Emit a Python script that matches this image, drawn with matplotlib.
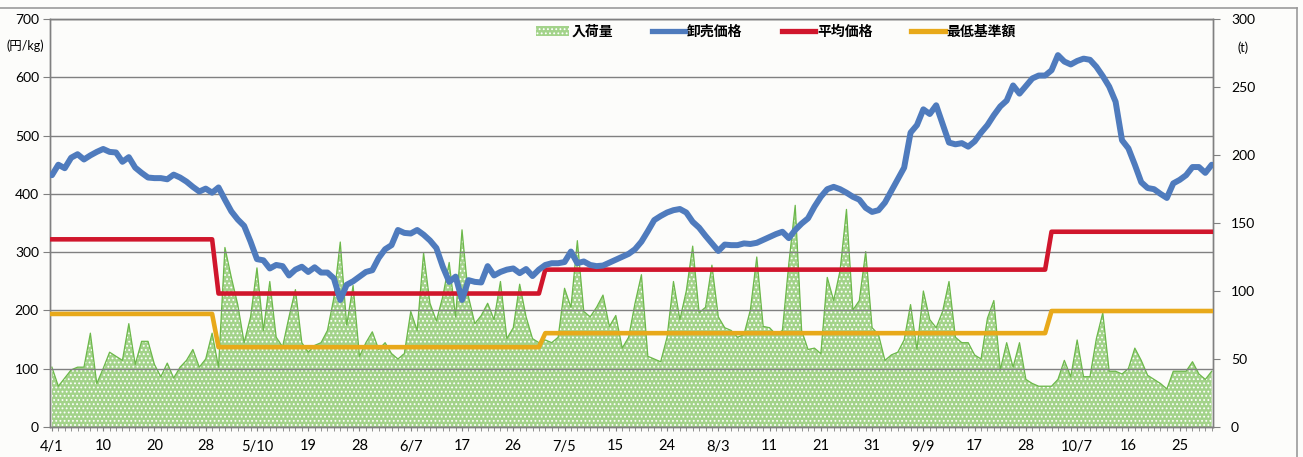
import matplotlib
matplotlib.use('Agg')
import matplotlib.pyplot as plt
import numpy as np
from matplotlib.lines import Line2D
from matplotlib.patches import Patch

plt.rcParams['font.family'] = ['Lato', 'Noto Sans CJK JP', 'DejaVu Sans']
plt.rcParams['hatch.color'] = 'white'
plt.rcParams['hatch.linewidth'] = 0.8

# ---- data ----
tick_labels = ['4/1', '10', '20', '28', '5/10', '19', '28', '6/7', '17', '26', '7/5', '15',
               '24', '8/3', '11', '21', '31', '9/9', '17', '28', '10/7', '16', '25']

# 卸売価格 (円/kg), one value per market day
wholesale_price = [
    432, 450, 444, 462, 468, 459, 466, 472, 477, 472,
    471, 455, 463, 445, 436, 428, 427, 427, 425, 433,
    428, 421, 412, 404, 409, 402, 411, 390, 370, 356,
    345, 318, 288, 286, 272, 278, 276, 260, 270, 275,
    266, 274, 265, 265, 255, 218, 244, 250, 258, 266,
    269, 290, 305, 312, 338, 333, 332, 338, 330, 320,
    307, 275, 249, 258, 218, 252, 249, 248, 276, 260,
    266, 270, 272, 264, 271, 259, 270, 278, 281, 281,
    283, 301, 281, 284, 278, 276, 277, 282, 287, 292,
    297, 305, 318, 336, 355, 362, 368, 372, 374, 368,
    352, 342, 328, 315, 302, 313, 312, 312, 315, 314,
    316, 321, 326, 331, 335, 324, 338, 349, 358, 378,
    395, 408, 412, 408, 402, 395, 390, 376, 369, 372,
    385, 405, 425, 445, 505, 518, 545, 537, 552, 520,
    488, 485, 487, 481, 490, 505, 518, 535, 550, 560,
    586, 572, 585, 598, 603, 603, 612, 638, 627, 622,
    628, 632, 630, 618, 602, 584, 558, 492, 478, 450,
    420, 410, 408, 400, 393, 418, 424, 432, 446, 446,
    436, 450]

# 入荷量 (t)
arrival_volume = [
    44, 30, 36, 42, 44, 44, 69, 32, 43, 55,
    52, 49, 76, 46, 63, 63, 46, 37, 47, 36,
    44, 49, 57, 44, 50, 69, 44, 132, 110, 90,
    62, 81, 117, 71, 107, 66, 59, 81, 101, 62,
    55, 60, 62, 71, 95, 136, 75, 104, 52, 62,
    70, 57, 62, 54, 50, 54, 85, 71, 128, 91,
    78, 96, 121, 81, 145, 96, 76, 82, 91, 79,
    107, 65, 73, 105, 81, 65, 62, 64, 62, 66,
    102, 88, 137, 85, 81, 88, 97, 74, 82, 58,
    66, 91, 112, 52, 50, 48, 66, 107, 79, 100,
    133, 84, 88, 119, 81, 73, 71, 66, 68, 86,
    125, 74, 73, 68, 71, 120, 163, 71, 57, 58,
    54, 110, 93, 115, 160, 86, 93, 129, 73, 68,
    49, 53, 55, 64, 90, 57, 100, 79, 73, 85,
    107, 66, 62, 62, 53, 50, 80, 93, 42, 62,
    44, 62, 35, 32, 30, 30, 30, 35, 49, 37,
    64, 37, 37, 65, 84, 41, 41, 39, 43, 58,
    49, 38, 35, 32, 28, 41, 41, 41, 48, 39,
    35, 41]

# 平均価格 / 最低基準額 : levels per period and period lengths (market days)
avg_price_levels = [322, 229, 270, 335]
min_standard_levels = [194, 137, 161, 199]
period_days = [26, 51, 79, 26]

avg_price = np.repeat(avg_price_levels, period_days)
min_standard = np.repeat(min_standard_levels, period_days)

x = np.arange(len(wholesale_price))

# ---- figure ----
W, H = 1303, 457
fig = plt.figure(figsize=(W / 100, H / 100), dpi=100)
fig.patch.set_facecolor('#fcfcfa')

ax = fig.add_axes([50 / W, 30 / H, 1163 / W, 408 / H])
ax2 = ax.twinx()
ax2.set_zorder(1)
ax.set_zorder(2)
ax.patch.set_visible(False)
ax2.patch.set_facecolor('#fcfcfa')

GREEN_FILL = '#a3d38a'
GREEN_EDGE = '#6cb84a'
BLUE = '#4f7bbd'
RED = '#d0162c'
YELLOW = '#e8a91a'
GRID = '#808080'

ax2.fill_between(x, 0, arrival_volume, facecolor=GREEN_FILL, edgecolor='white',
                 hatch='....', linewidth=0, zorder=1)
ax2.plot(x, arrival_volume, color=GREEN_EDGE, lw=0.9, zorder=2)
ax2.set_ylim(0, 300)
ax2.set_yticks(np.arange(0, 301, 50))

ax.plot(x, min_standard, color=YELLOW, lw=3.3, solid_joinstyle='round', zorder=3)
ax.plot(x, avg_price, color=RED, lw=3.3, solid_joinstyle='round', zorder=4)
ax.plot(x, wholesale_price, color=BLUE, lw=4.3, solid_joinstyle='round',
        solid_capstyle='round', zorder=5)

ax.set_ylim(0, 700)
ax.set_yticks(np.arange(0, 701, 100))
ax.set_xlim(-0.3, 181.2)
ax.yaxis.grid(True, color=GRID, lw=1.0)
ax.set_axisbelow(True)

ax.set_xticks(np.arange(0, 8 * len(tick_labels), 8))
ax.set_xticklabels(tick_labels)
ax.set_xticks(x, minor=True)

for a in (ax, ax2):
    for s in a.spines.values():
        s.set_color(GRID)
        s.set_linewidth(1.0)

ax.tick_params(axis='y', direction='out', length=5, color=GRID, labelsize=10, pad=3)
ax2.tick_params(axis='y', direction='out', length=5, color=GRID, labelsize=10, pad=8)
ax.tick_params(axis='x', which='major', direction='out', length=3, color=GRID,
               labelsize=10.5, pad=6)
ax.tick_params(axis='x', which='minor', direction='out', length=3, color=GRID)

fig.text(25 / W, 1 - 46 / H, '(円/kg)', fontsize=9, ha='center', va='center')
fig.text(1243 / W, 1 - 48 / H, '(t)', fontsize=9, ha='center', va='center')

handles = [
    Patch(facecolor=GREEN_FILL, edgecolor='white', hatch='....', linewidth=0),
    Line2D([0], [0], color=BLUE, lw=3.8),
    Line2D([0], [0], color=RED, lw=3.8),
    Line2D([0], [0], color=YELLOW, lw=3.8),
]
labels = ['入荷量', '卸売価格', '平均価格', '最低基準額']
fig.legend(handles, labels, loc='center', bbox_to_anchor=(776 / W, 1 - 31 / H),
           ncol=4, frameon=False, handlelength=2.4, handletextpad=0.15,
           columnspacing=2.8, borderpad=0,
           prop={'size': 10, 'weight': 'bold'})

# outer chart frame (partially visible in reference)
fig.add_artist(Line2D([0, 1297 / W], [1 - 8 / H, 1 - 8 / H], color='#9a9a9a', lw=1.2))
fig.add_artist(Line2D([1297 / W, 1297 / W], [0, 1 - 8 / H], color='#9a9a9a', lw=1.2))

fig.savefig('out.png', dpi=100, facecolor=fig.get_facecolor())
